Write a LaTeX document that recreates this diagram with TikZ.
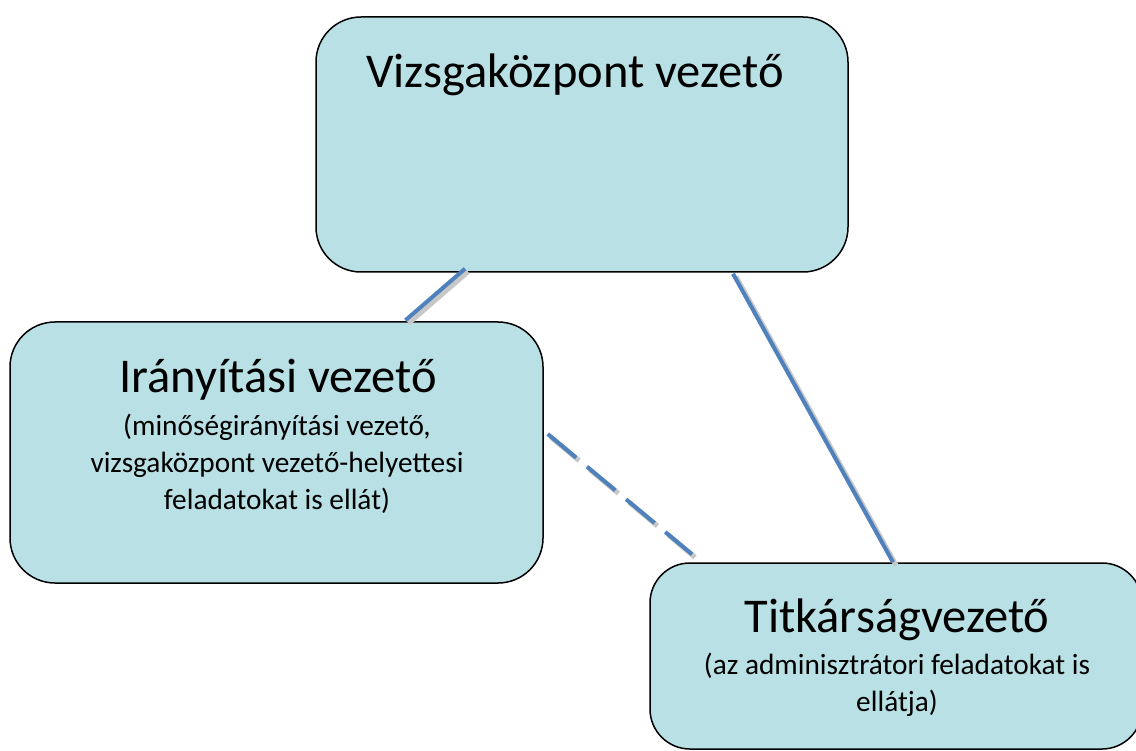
\documentclass[tikz,border=0pt]{standalone}
\usepackage{fontspec}
\setmainfont{Carlito}
\usetikzlibrary{calc}
\definecolor{boxfill}{RGB}{185,224,228}
\definecolor{linkblue}{RGB}{79,129,189}
\begin{document}
\begin{tikzpicture}[x=1pt,y=-1pt,
  box/.style={draw=black, line width=1.5pt, fill=boxfill, rounded corners=45pt, inner sep=0pt},
  titletext/.style={font=\fontsize{48.5}{56}\selectfont, anchor=base, inner sep=0pt},
  subtext/.style={font=\fontsize{29.3}{37}\selectfont, align=center, anchor=base, inner sep=0pt},
  link/.style={draw=linkblue, line width=4pt},
  dashedlink/.style={link, dash pattern=on 37pt off 14pt},
  shade/.style={draw=black!22, line width=5pt, transform canvas={shift={(3pt,-3pt)}}}
]
\useasboundingbox (0,0) rectangle (1136,751);
\fill[white] (0,0) rectangle (1136,751);
% boxes
\node[box, minimum width=532pt, minimum height=255pt] (vk) at (582,144.5) {};
\node[box, minimum width=533pt, minimum height=261pt] (ir) at (276.5,452.5) {};
\node[box, minimum width=492pt, minimum height=186pt, rounded corners=40pt] (tv) at (896,656) {};
% texts (subtext nodes are anchored at the baseline of their last line)
\node[titletext] (vkt) at (575,88) {Vizsgaközpont vezető};
\node[titletext] (irt) at (278,393) {Irányítási vezető};
\node[subtext] (irs) at (277,509) {(minőségirányítási vezető,\\vizsgaközpont vezető-helyettesi\\feladatokat is ellát)};
\node[titletext] (tvt) at (897,632) {Titkárságvezető};
\node[subtext] (tvs) at (897,711) {(az adminisztrátori feladatokat is\\ellátja)};
% connector shadows
\draw[shade] ([shift={(-117pt,4pt)}]vk.south) -- ([shift={(129pt,1pt)}]ir.north);
\draw[shade] ([shift={(151pt,-1pt)}]vk.south) -- ([shift={(-3pt,0pt)}]tv.north);
\draw[shade, dash pattern=on 37pt off 14pt] ([shift={(4pt,18.5pt)}]ir.east) -- ([shift={(-204pt,8pt)}]tv.north);
% connectors
\draw[link] ([shift={(-117pt,4pt)}]vk.south) -- ([shift={(129pt,1pt)}]ir.north);
\draw[link] ([shift={(151pt,-1pt)}]vk.south) -- ([shift={(-3pt,0pt)}]tv.north);
\draw[dashedlink] ([shift={(4pt,18.5pt)}]ir.east) -- ([shift={(-204pt,8pt)}]tv.north);
\end{tikzpicture}
\end{document}
